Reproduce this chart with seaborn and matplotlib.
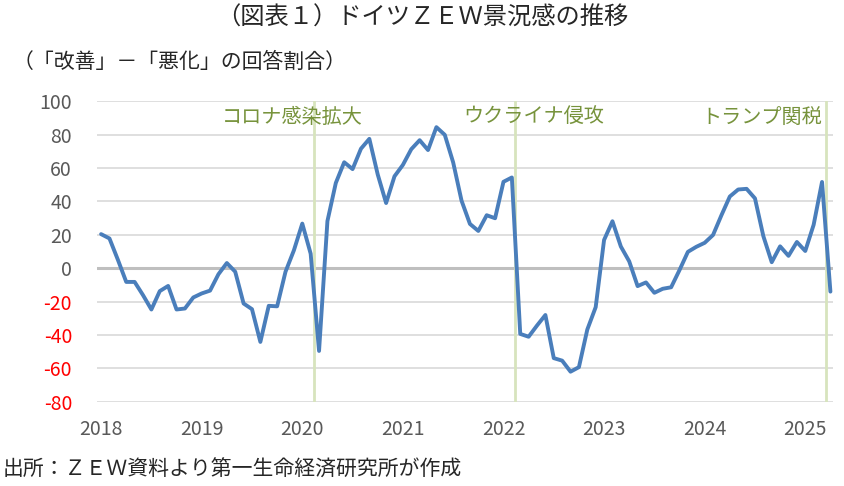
import numpy as np
import pandas as pd
import matplotlib
matplotlib.use("Agg")
import matplotlib.pyplot as plt
import seaborn as sns

sns.set_style("white")
plt.rcParams['font.family'] = ['Noto Sans CJK JP', 'DejaVu Sans']
plt.rcParams['axes.unicode_minus'] = False

# ZEW economic sentiment, monthly from Jan 2018 to Apr 2025
zew = [
    20.4, 17.8, 5.1, -8.2, -8.2, -16.1, -24.7, -13.7, -10.6, -24.7, -24.1, -17.5,   # 2018
    -15.1, -13.4, -3.6, 3.1, -2.1, -21.1, -24.5, -44.1, -22.5, -22.8, -2.1, 10.7,   # 2019
    26.7, 8.7, -49.5, 28.2, 51.0, 63.4, 59.3, 71.5, 77.4, 56.1, 39.0, 55.0,         # 2020
    61.8, 71.2, 76.6, 70.7, 84.4, 79.8, 63.3, 40.4, 26.5, 22.3, 31.7, 29.9,         # 2021
    51.7, 54.3, -39.3, -41.0, -34.3, -28.0, -53.8, -55.3, -61.9, -59.2, -36.7, -23.3,  # 2022
    16.9, 28.1, 13.0, 4.1, -10.7, -8.5, -14.7, -12.3, -11.4, -1.1, 9.8, 12.8,       # 2023
    15.2, 19.9, 31.7, 42.9, 47.1, 47.5, 41.8, 19.2, 3.6, 13.1, 7.4, 15.7,           # 2024
    10.3, 26.0, 51.6, -14.0,                                                        # 2025
]
start_year = 2018
year_ticks = list(range(2018, 2026))
y_ticks = list(range(-80, 101, 20))

# events (position in months from Jan 2018) and labels
event_months = [25.4, 49.4, 86.5]
event_labels = ["コロナ感染拡大", "ウクライナ侵攻", "トランプ関税"]

df = pd.DataFrame({"t": start_year + np.arange(len(zew)) / 12, "zew": zew})

fig = plt.figure(figsize=(8.44, 4.86), dpi=100)
ax = fig.add_axes([0.115, 0.173, 0.872, 0.619])

for y in y_ticks:
    if y != 0:
        ax.axhline(y, color="#D9D9D9", lw=1.2, zorder=0)
ax.axhline(0, color="#BFBFBF", lw=2.2, zorder=1)

for m in event_months:
    ax.axvline(start_year + m / 12, color="#D7E4BD", lw=2, zorder=1)

sns.lineplot(data=df, x="t", y="zew", ax=ax, color="#4A7EBB", lw=2.8, zorder=3)

ax.set_ylim(-80, 100)
ax.set_xlim(start_year - 0.04, start_year + 7.276)
ax.set_yticks(y_ticks)
ax.set_xticks(year_ticks)
ax.set_xticklabels([str(y) for y in year_ticks])
ax.tick_params(axis="both", length=0, labelsize=14, colors="#595959")
ax.tick_params(axis="y", pad=18)
ax.tick_params(axis="x", pad=12)
for lab, y in zip(ax.get_yticklabels(), y_ticks):
    lab.set_color("#FF0000" if y < 0 else "#595959")
ax.set_xlabel("")
ax.set_ylabel("")
sns.despine(ax=ax, left=True, bottom=True)
ax.grid(False)

# event labels
label_x = [start_year + 25.4 / 12 - 0.22, start_year + 49.4 / 12 + 0.18, start_year + 86.5 / 12 - 0.04]
label_ha = ["center", "center", "right"]
for x, lab, ha in zip(label_x, event_labels, label_ha):
    ax.text(x, 90, lab, ha=ha, va="center", fontsize=14.5, color="#77933C")

fig.text(0.5, 0.963, "（図表１）ドイツＺＥＷ景況感の推移", ha="center", va="center",
         fontsize=17.5, color="#262626")
fig.text(0.015, 0.872, "（「改善」－「悪化」の回答割合）", ha="left", va="center",
         fontsize=15, color="#262626")
fig.text(0.003, 0.033, "出所：ＺＥＷ資料より第一生命経済研究所が作成", ha="left", va="center",
         fontsize=15, color="#262626")

fig.savefig("out.png", dpi=100)
